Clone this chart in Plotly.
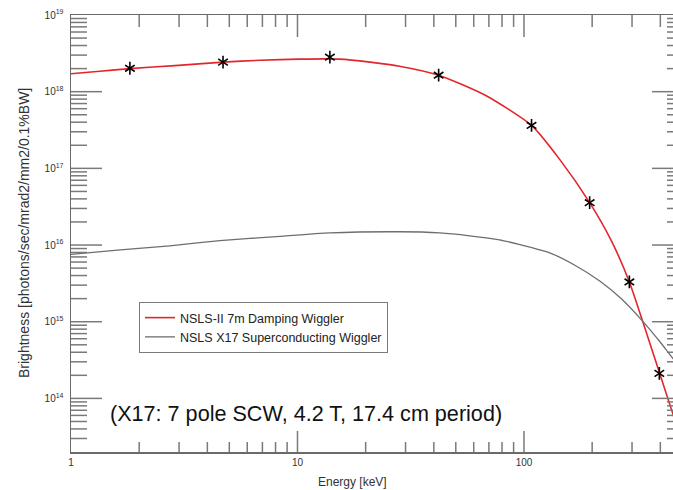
import numpy as np
import plotly.graph_objects as go

# ---- data ----
red_E = [1, 1.34, 1.82, 2.88, 4.69, 6.83, 10.25, 15.4, 20.9, 28.2, 42, 67.5, 108, 144, 195, 243, 292, 334, 396, 455, 500]
red_B = [1.71e18, 1.85e18, 2.0e18, 2.19e18, 2.43e18, 2.57e18, 2.66e18, 2.66e18, 2.43e18, 2.15e18, 1.64e18,
         8.98e17, 3.63e17, 1.30e17, 3.57e16, 1.14e16, 3.3e15, 1.02e15, 2.19e14, 6.2e13, 2.5e13]

star_E = [1.82, 4.69, 13.9, 42, 108, 195, 292, 396]
star_B = [2.02e18, 2.43e18, 2.82e18, 1.64e18, 3.63e17, 3.57e16, 3.3e15, 2.12e14]

gray_E = [1, 1.65, 2.73, 4.54, 8.37, 13.9, 28.2, 42.5, 57.5, 78, 96, 130, 167, 216, 270, 334, 396, 455, 500]
gray_B = [7.55e15, 8.65e15, 9.77e15, 1.14e16, 1.30e16, 1.44e16, 1.49e16, 1.44e16, 1.32e16, 1.17e16, 1.01e16,
          7.9e15, 5.5e15, 3.4e15, 1.98e15, 1.02e15, 5.6e14, 3.3e14, 2.4e14]

x_ticks = [1, 10, 100]
x_ticktext = ["1", "10", "100"]
y_ticks = [1e14, 1e15, 1e16, 1e17, 1e18, 1e19]
y_ticktext = ["10<sup>14</sup>", "10<sup>15</sup>", "10<sup>16</sup>", "10<sup>17</sup>", "10<sup>18</sup>", "10<sup>19</sup>"]

legend_red = "NSLS-II 7m Damping Wiggler"
legend_gray = "NSLS X17 Superconducting Wiggler"
note_text = "(X17: 7 pole SCW, 4.2 T, 17.4 cm period)"
x_title = "Energy [keV]"
y_title = "Brightness [photons/sec/mrad2/mm2/0.1%BW]"

x_minor = [m * 10 ** d for d in range(0, 3) for m in range(2, 10)]
y_minor = [m * 10 ** d for d in range(13, 19) for m in range(2, 10)]

FONT = "Liberation Sans, Arial, Helvetica, sans-serif"
LC = "#6a6a6a"   # axis line colour
TC = "#7a7a7a"   # tick colour
W, H = 673, 490
L, R, T, B = 71, 0, 15, 38
pw, ph = W - L - R, H - T - B

xr = [0, np.log10(455)]
yr = [np.log10(2e13), 19]

fig = go.Figure()
fig.add_trace(go.Scatter(x=red_E, y=red_B, mode="lines", name=legend_red,
                         line=dict(color="#e3262b", width=1.6, shape="spline", smoothing=0.6)))
fig.add_trace(go.Scatter(x=gray_E, y=gray_B, mode="lines", name=legend_gray,
                         line=dict(color="#6e6e6e", width=1.3, shape="spline", smoothing=0.6)))
for sym in ["y-up-open", "y-down-open"]:
    fig.add_trace(go.Scatter(x=star_E, y=star_B, mode="markers", showlegend=False,
                             marker=dict(symbol=sym, size=8, color="black",
                                         line=dict(color="black", width=1.6))))


# tick marks drawn as paper-anchored shapes from the tick value lists
def xfrac(v):
    return (np.log10(v) - xr[0]) / (xr[1] - xr[0])


def yfrac(v):
    return (np.log10(v) - yr[0]) / (yr[1] - yr[0])


shapes = []
tick_line = dict(color=TC, width=1.5)
for vals, blen, tlen in [(x_ticks, 21, 22), (x_minor, 10, 12)]:
    for v in vals:
        f = xfrac(v)
        if 0 < f < 1:
            shapes.append(dict(type="line", xref="paper", yref="paper", x0=f, x1=f,
                               y0=0, y1=blen / ph, line=tick_line, layer="above"))
            shapes.append(dict(type="line", xref="paper", yref="paper", x0=f, x1=f,
                               y0=1, y1=1 - tlen / ph, line=tick_line, layer="above"))
for vals, llen, rlen in [(y_ticks, 31, 21), (y_minor, 16, 6)]:
    for v in vals:
        f = yfrac(v)
        if 0 < f < 1:
            shapes.append(dict(type="line", xref="paper", yref="paper", y0=f, y1=f,
                               x0=0, x1=llen / pw, line=tick_line, layer="above"))
            shapes.append(dict(type="line", xref="paper", yref="paper", y0=f, y1=f,
                               x0=1 - rlen / pw, x1=1, line=tick_line, layer="above"))

fig.update_layout(
    width=W, height=H,
    margin=dict(l=L, r=R, t=T, b=B),
    paper_bgcolor="white", plot_bgcolor="white",
    font=dict(family=FONT, size=10, color="#333"),
    showlegend=True,
    dragmode=False,
    shapes=shapes,
    legend=dict(x=(139 - L) / pw, y=(452 - 302) / ph, xanchor="left", yanchor="top",
                bgcolor="white", bordercolor="#7a7a7a", borderwidth=1,
                font=dict(family=FONT, size=12.5, color="#222"),
                itemwidth=30, tracegroupgap=0),
    xaxis=dict(type="log", range=xr, showgrid=False, zeroline=False, automargin=False,
               showline=True, linecolor=LC, linewidth=1.5, mirror=True, ticks="",
               tickmode="array", tickvals=x_ticks, ticktext=x_ticktext,
               tickfont=dict(family=FONT, size=10, color="#333")),
    yaxis=dict(type="log", range=yr, showgrid=False, zeroline=False, automargin=False,
               showline=True, linecolor=LC, linewidth=1.5, mirror=False, ticks="",
               tickmode="array", tickvals=y_ticks, ticktext=y_ticktext, ticklabelstandoff=4,
               tickfont=dict(family=FONT, size=10, color="#333")),
)

fig.add_annotation(text=note_text, xref="paper", yref="paper",
                   x=(108 - L) / pw, y=(452 - 413) / ph, xanchor="left", yanchor="middle",
                   showarrow=False,
                   font=dict(family=FONT, size=21.6, color="#111"))
fig.add_annotation(text=x_title, xref="paper", yref="paper",
                   x=(352 - L) / pw, y=(452 - 482) / ph, xanchor="center", yanchor="middle",
                   showarrow=False, font=dict(family=FONT, size=12, color="#333"))
fig.add_annotation(text=y_title, xref="paper", yref="paper",
                   x=(24 - L) / pw, y=(452 - 233) / ph, xanchor="center", yanchor="middle",
                   textangle=-90, showarrow=False, font=dict(family=FONT, size=14, color="#333"))

fig.write_html("out.html", config={"staticPlot": True})
